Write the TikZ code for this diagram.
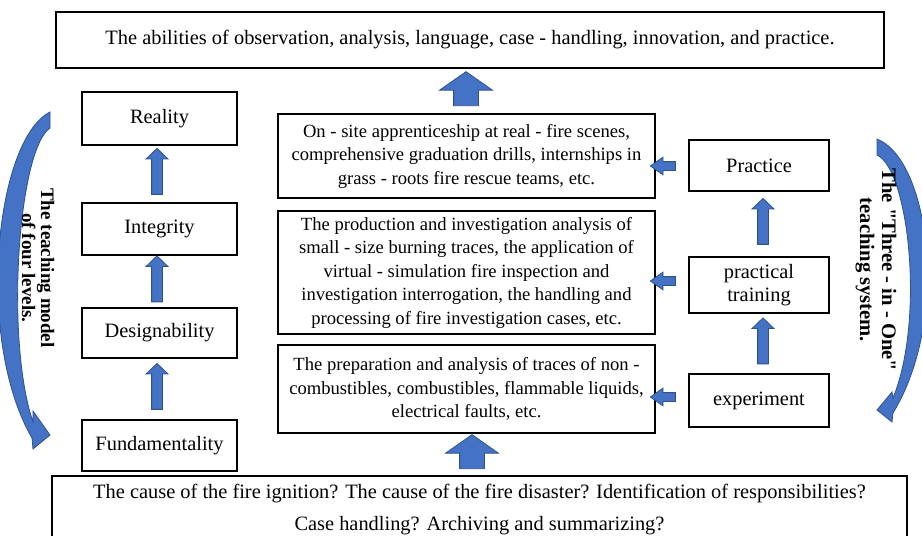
\documentclass[tikz,border=0pt]{standalone}
\usepackage{fontspec}
\setmainfont{Liberation Serif}
\usetikzlibrary{shapes.arrows,calc}
\definecolor{arrowblue}{HTML}{4472C4}
\definecolor{arrowline}{HTML}{2F528F}
\tikzset{
  box/.style={draw, line width=0.9pt, align=center, inner sep=0pt, font=\fontsize{10.2}{11.75}\selectfont},
  textbox/.style={box, font=\fontsize{9.3}{11.75}\selectfont},
  blockarrow/.style={single arrow, draw=arrowline, fill=arrowblue, line width=0.4pt, inner xsep=0pt},
  bigup/.style={blockarrow, rotate=90, inner ysep=6pt, single arrow head extend=7pt, single arrow tip angle=110, minimum height=17pt},
  smallup/.style={blockarrow, rotate=90, inner ysep=2.5pt, single arrow head extend=2.75pt, single arrow tip angle=92, minimum height=23pt},
  smallleft/.style={blockarrow, rotate=180, inner ysep=2pt, single arrow head extend=2.25pt, single arrow tip angle=70, minimum height=12.5pt},
  bluecurve/.style={draw=arrowline, fill=arrowblue, line width=0.4pt},
  sidetext/.style={rotate=-90, align=center, font=\bfseries\fontsize{9.5}{9.5}\selectfont}
}
\begin{document}
\begin{tikzpicture}[x=0.5pt, y=-0.5pt]
\useasboundingbox (0,0) rectangle (922,536);
\clip (0,0) rectangle (922,536);
% top and bottom
\node[box, minimum width=414pt, minimum height=28pt] (abilities) at (470,40) {The abilities of observation, analysis, language, case - handling, innovation, and practice.};
\node[box, minimum width=427.5pt, minimum height=34pt, font=\fontsize{10.2}{16}\selectfont] (causes) at (479.5,510) {The cause of the fire ignition? The cause of the fire disaster? Identification of responsibilities?\\Case handling? Archiving and summarizing?};
% four levels
\node[box, minimum width=77.5pt, minimum height=26.5pt] (reality) at (159.5,118.5) {Reality};
\node[box, minimum width=77.5pt, minimum height=26pt] (integrity) at (159.5,229) {Integrity};
\node[box, minimum width=77.5pt, minimum height=25pt] (design) at (159.5,333) {Designability};
\node[box, minimum width=77.5pt, minimum height=25.5pt] (fund) at (159.5,445.5) {Fundamentality};
% contents
\node[textbox, minimum width=188.5pt, minimum height=42pt] (onsite) at (466.5,156) {On - site apprenticeship at real - fire scenes,\\comprehensive graduation drills, internships in\\grass - roots fire rescue teams, etc.};
\node[textbox, minimum width=188.5pt, minimum height=61.5pt] (production) at (466.5,272.5) {The production and investigation analysis of\\small - size burning traces, the application of\\virtual - simulation fire inspection and\\investigation interrogation, the handling and\\processing of fire investigation cases, etc.};
\node[textbox, minimum width=188.5pt, minimum height=44pt] (preparation) at (466.5,389) {The preparation and analysis of traces of non -\\combustibles, combustibles, flammable liquids,\\electrical faults, etc.};
% three in one
\node[box, minimum width=70pt, minimum height=25.5pt] (practice) at (759,165.5) {Practice};
\node[box, minimum width=70pt, minimum height=28pt] (training) at (759,285) {practical\\training};
\node[box, minimum width=70pt, minimum height=26.5pt] (experiment) at (759,400.5) {experiment};
% block arrows
\node[bigup] (upabilities) at (466,93) {};
\node[bigup] (upcauses) at (472,456) {};
\node[smallup] (upreality) at ($(integrity.north)!0.5!(reality.south)+(-2.5,0)$) {};
\node[smallup] (upintegrity) at ($(design.north)!0.5!(integrity.south)+(-2.5,0)$) {};
\node[smallup] (updesign) at ($(fund.north)!0.5!(design.south)+(-2.5,0)$) {};
\node[smallup] (uppractice) at ($(training.north)!0.5!(practice.south)+(4,0)$) {};
\node[smallup] (uptraining) at ($(experiment.north)!0.5!(training.south)+(4,0)$) {};
\node[smallleft] (toonsite) at (666,166) {};
\node[smallleft] (toproduction) at (666,281) {};
\node[smallleft] (topreparation) at (666,397) {};
% curved arrows and side labels
\path[bluecurve] (50,112) .. controls (-5,140) and (-25,340) .. (32,438) -- (33,449) -- (50,435) -- (33,411) -- (33,422) .. controls (5,340) and (18,150) .. (50,128) -- cycle;
\path[bluecurve] (877,139) .. controls (930,160) and (950,320) .. (893,413) -- (892,422) -- (877,410) -- (892,392) -- (893,398) .. controls (925,320) and (909,170) .. (877,155) -- cycle;
\node[sidetext] (fourlevels) at (38,268) {The teaching model\\of four levels.};
\node[sidetext, font=\bfseries\fontsize{10.3}{11}\selectfont] (threeinone) at (876,270) {The \textquotedbl Three - in - One\textquotedbl\\teaching system.};
\end{tikzpicture}
\end{document}
